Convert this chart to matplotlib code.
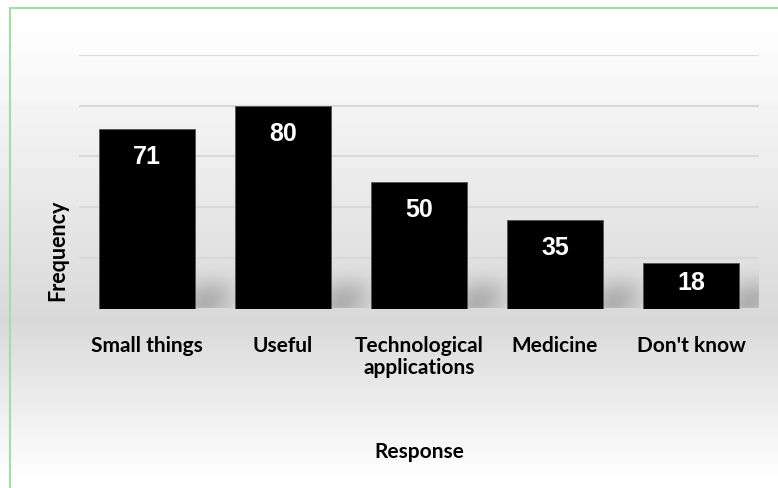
import numpy as np
import matplotlib
matplotlib.use("Agg")
import matplotlib.pyplot as plt
from matplotlib.patches import Rectangle

# Data
categories = ["Small things", "Useful", "Technological\napplications", "Medicine", "Don't know"]
frequency = [71, 80, 50, 35, 18]
y_ticks = [0, 20, 40, 60, 80, 100]

W, H = 778, 488
fig = plt.figure(figsize=(W / 100, H / 100), dpi=100)

# Background gradient: white at top, grey near the baseline, white again at the bottom
bg = fig.add_axes([0, 0, 1, 1], zorder=-10)
rows = np.arange(H)
shade = np.interp(rows, [0, 40, 320, 470, H], [1.0, 0.99, 0.85, 0.99, 1.0])
img = np.repeat(shade[:, None], 10, axis=1)
bg.imshow(img, cmap="gray", vmin=0, vmax=1, aspect="auto", extent=[0, 1, 0, 1], origin="upper")
bg.set_axis_off()

# green frame, cut off at right and bottom
fig.patches.append(Rectangle((10 / W, -0.05), 1.2, 1 - 8 / H + 0.05, transform=fig.transFigure,
                             fill=False, edgecolor="#a8dba9", linewidth=1.6))

ax = fig.add_axes([79 / W, (H - 308.5) / H, 680 / W, 253.5 / H])
ax.set_facecolor("none")
x = np.arange(len(categories))
width = 0.706
px_x = 136.0   # pixels per category
px_y = 2.535   # pixels per unit of frequency

# soft blurred shadows to the right of each bar base (one sample per pixel)
u = np.arange(-10, 71) + 0.5
v = np.arange(0, 56) + 0.5
U, V = np.meshgrid(u, v)
alpha = 0.2 * np.exp(-((U - 12) / 26) ** 2) * np.exp(-((V - 8 - 0.15 * (U - 12)) / 20) ** 2)
shadow = np.zeros(U.shape + (4,))
shadow[..., 3] = alpha
for xi in x:
    right = xi + width / 2
    ax.imshow(shadow, origin="lower", aspect="auto", interpolation="bilinear", zorder=1,
              extent=[right - 10 / px_x, right + 71 / px_x, 0, 56 / px_y])

bars = ax.bar(x, frequency, width=width, color="black", edgecolor="#555555", linewidth=0.6, zorder=3)

for xi, val in zip(x, frequency):
    ypos = val - 11.3 if val > 30 else val - 8
    ax.text(xi, ypos, str(val), ha="center", va="center", color="white",
            fontsize=18, fontweight="bold", family="Liberation Sans", zorder=4)

ax.set_ylim(0, 100)
ax.set_xlim(-0.5, len(categories) - 0.5)
ax.set_yticks(y_ticks)
ax.yaxis.grid(True, color="#d9d9d9", linewidth=1.5, zorder=0)
ax.set_axisbelow(True)
ax.tick_params(axis="y", length=0, labelleft=False)
ax.tick_params(axis="x", length=0, pad=20)
ax.set_xticks(x)
ax.set_xticklabels(categories, fontsize=15, fontweight="bold", family="Lato", linespacing=1.1)
for sp in ax.spines.values():
    sp.set_visible(False)

fig.text(419 / W, 1 - 452 / H, "Response", ha="center", va="center",
         fontsize=15, fontweight="bold", family="Lato")
fig.text(58 / W, 1 - 250 / H, "Frequency", ha="center", va="center", rotation=90,
         fontsize=15.5, fontweight="bold", family="Lato")

fig.savefig("out.png", dpi=100)
